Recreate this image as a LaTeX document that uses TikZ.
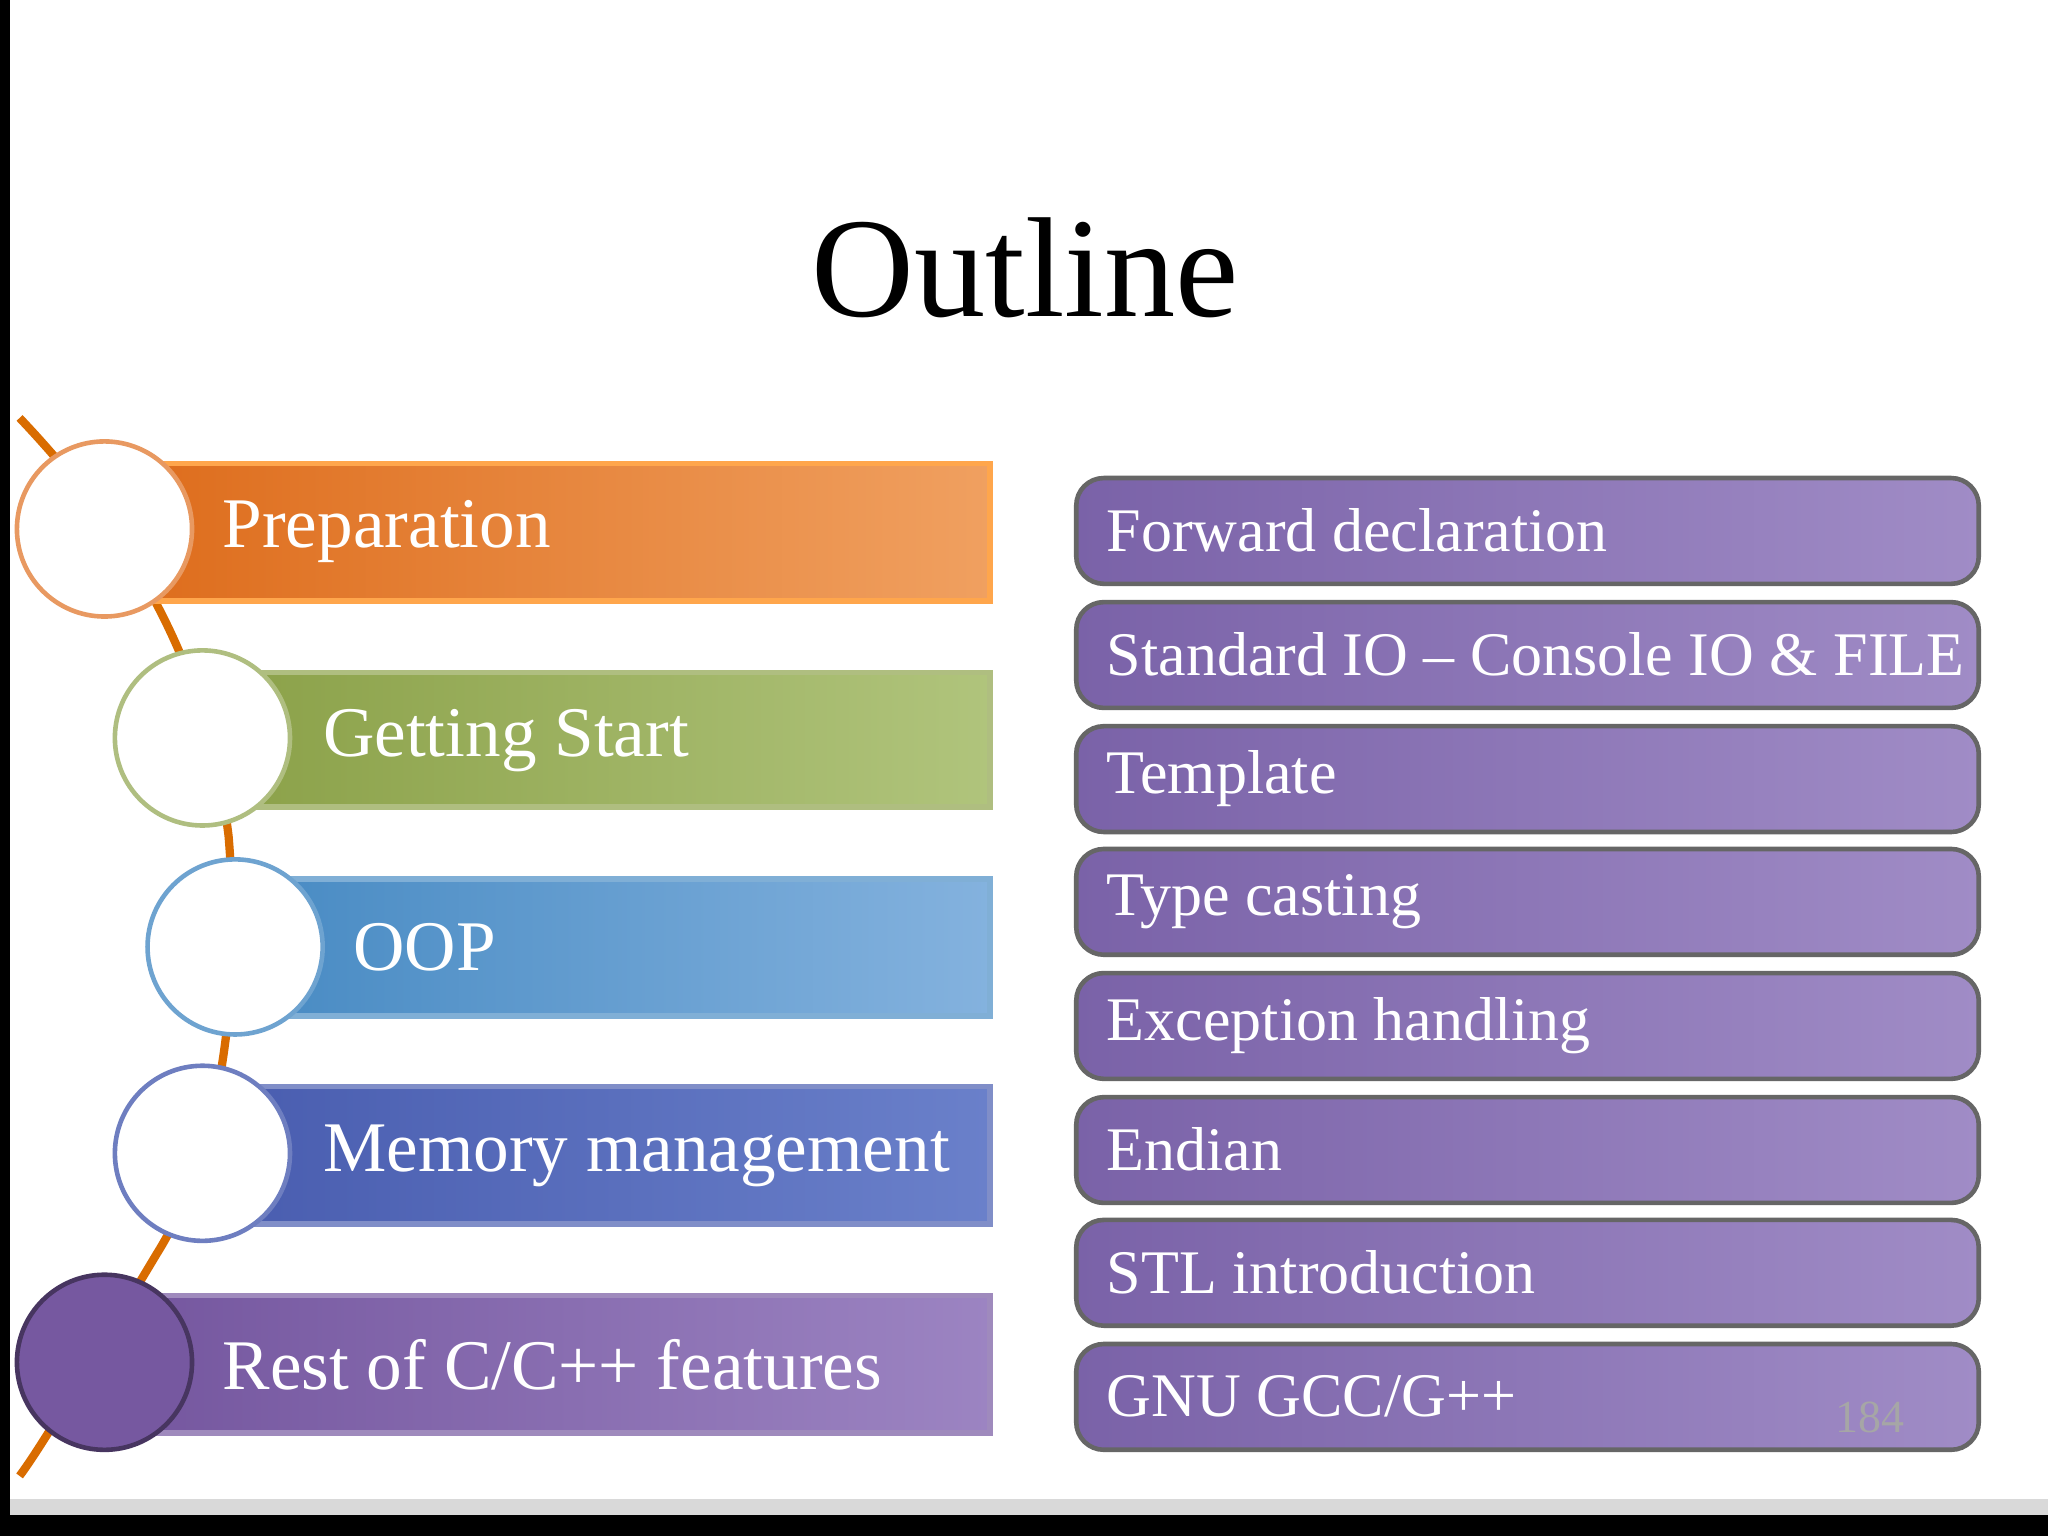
\documentclass[tikz,border=0pt]{standalone}
\usepackage{fontspec}
\setmainfont{Liberation Serif}
\begin{document}
\begin{tikzpicture}[x=0.01cm,y=-0.01cm,
  lbar/.style={draw=#1!70!white,line width=1.2pt},
  rbox/.style={rounded corners=6pt,draw=black!60,line width=1pt,left color=rp1,right color=rp2},
  circ/.style={circle,minimum size=1.34cm,inner sep=0pt,draw=#1,line width=1pt,fill=white},
  ltxt/.style={anchor=west,text=white,font=\fontsize{15.5}{18}\selectfont},
  rtxt/.style={anchor=west,text=white,font=\fontsize{13.5}{16}\selectfont}]
\definecolor{rp1}{HTML}{7A62A8}\definecolor{rp2}{HTML}{A08CC6}
\definecolor{or1}{HTML}{DE6E1E}\definecolor{or2}{HTML}{F0A060}
\definecolor{gr1}{HTML}{8CA24A}\definecolor{gr2}{HTML}{B0C47C}
\definecolor{bl1}{HTML}{4A8CC4}\definecolor{bl2}{HTML}{84B2DE}
\definecolor{mb1}{HTML}{4A5EB0}\definecolor{mb2}{HTML}{6A80CA}
\definecolor{pu1}{HTML}{7658A0}\definecolor{pu2}{HTML}{9C84C2}
\useasboundingbox (0,0) rectangle (1568,1176);
\fill[white] (0,0) rectangle (1568,1176);
\fill[black] (0,0) rectangle (8,1176);
\fill[black] (0,1160) rectangle (1568,1176);
\fill[black!15] (8,1148) rectangle (1568,1160);
\node (title) at (785,205) {\fontsize{31}{36}\selectfont Outline};
% connecting curve
\draw[orange!85!black,line width=1.8pt] (15,320) .. controls (110,420) and (160,520) .. (175,640)
  .. controls (185,760) and (170,880) .. (120,960) .. controls (60,1060) and (30,1110) .. (15,1130);
% left bars
\shade[left color=or1,right color=or2] (120,355) rectangle (758,460);
\draw[lbar=orange] (120,355) rectangle (758,460);
\shade[left color=gr1,right color=gr2] (190,515) rectangle (758,618);
\draw[lbar=gr1] (190,515) rectangle (758,618);
\shade[left color=bl1,right color=bl2] (215,673) rectangle (758,778);
\draw[lbar=bl1] (215,673) rectangle (758,778);
\shade[left color=mb1,right color=mb2] (190,832) rectangle (758,937);
\draw[lbar=mb1] (190,832) rectangle (758,937);
\shade[left color=pu1,right color=pu2] (120,992) rectangle (758,1097);
\draw[lbar=pu1] (120,992) rectangle (758,1097);
\node[circ=or1!70] (c1) at (80,405) {};
\node[circ=gr1!70] (c2) at (155,565) {};
\node[circ=bl1!80] (c3) at (180,725) {};
\node[circ=mb1!80] (c4) at (155,883) {};
\node[circ=pu1!60!black,fill=pu1] (c5) at (80,1043) {};
\node[ltxt] (l1) at (158,407) {Preparation};
\node[ltxt] (l2) at (235,567) {Getting Start};
\node[ltxt] (l3) at (258,725) {OOP};
\node[ltxt] (l4) at (235,885) {Memory management};
\node[ltxt] (l5) at (158,1045) {Rest of C/C++ features};
% right boxes
\foreach \t/\y [count=\i] in {{Forward declaration}/366,{Standard IO – Console IO \& FILE}/461,{Template}/556,{Type casting}/650,{Exception handling}/745,{Endian}/840,{STL introduction}/934,{GNU GCC/G++}/1029}{
  \draw[rbox] (824,\y) rectangle (1515,\y+81);
  \node[rtxt] (r\i) at (835,\y+40) {\t};
}
\node[text=black!35,font=\fontsize{10}{12}\selectfont] (pg) at (1432,1085) {184};
\end{tikzpicture}
\end{document}
